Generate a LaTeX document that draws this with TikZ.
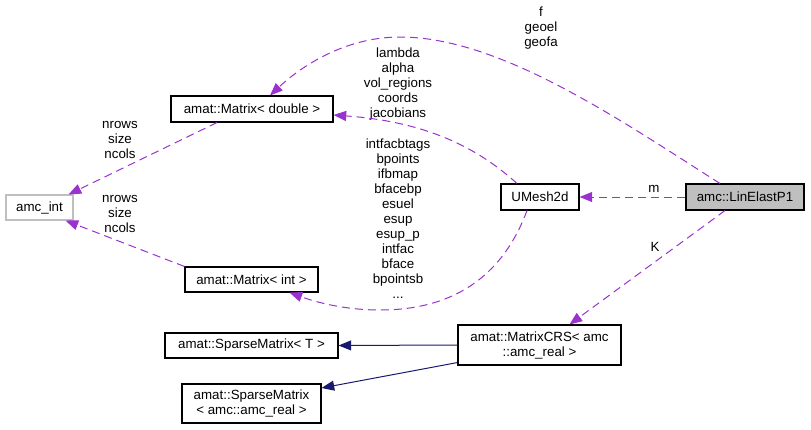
\documentclass[tikz,border=0pt]{standalone}
\usepackage{fontspec}
\setmainfont{Liberation Sans}
\usetikzlibrary{arrows.meta,calc}
\definecolor{depc}{HTML}{9A32CD}
\definecolor{inhc}{HTML}{191970}
\definecolor{grayb}{HTML}{BFBFBF}
\begin{document}
\begin{tikzpicture}[x=0.75pt,y=-0.75pt,
  font=\fontsize{10}{11.25}\selectfont,
  box/.style 2 args={draw=black, line width=0.8pt, inner sep=0pt, minimum width=#1*0.75pt, minimum height=#2*0.75pt, align=center},
  lbl/.style={align=center, inner sep=0pt},
  depl/.style={draw=depc, line width=0.75pt, dash pattern=on 6pt off 3.75pt, -{Triangle[length=9.5pt,width=7.5pt]}},
  inhl/.style={draw=inhc, line width=0.75pt, -{Triangle[length=9.5pt,width=7.5pt]}}]
\useasboundingbox (0,0) rectangle (811,429);

% nodes
\node[box={162}{26}] (md) at (252,109) {amat::Matrix< double >};
\node[box={67}{25}, draw=grayb] (ai) at (39.5,207.5) {amc\_int};
\node[box={78}{26}] (um) at (540,197) {UMesh2d};
\node[box={118}{26}, fill=grayb] (lin) at (745,197) {amc::LinElastP1};
\node[box={133}{25}] (mi) at (251.5,279.5) {amat::Matrix< int >};
\node[box={173}{25}] (st) at (251.5,345.5) {amat::SparseMatrix< T >};
\node[box={163}{40}] (crs) at (539.5,345) {amat::MatrixCRS< amc\\::amc\_real >};
\node[box={139}{39}] (sr) at (251.5,403.5) {amat::SparseMatrix\\< amc::amc\_real >};

% labels
\node[lbl] (l1) at (541,28) {f\\geoel\\geofa};
\node[lbl] (l2) at (398,84) {lambda\\alpha\\vol\_regions\\coords\\jacobians};
\node[lbl] (l3) at (398,219) {intfacbtags\\bpoints\\ifbmap\\bfacebp\\esuel\\esup\\esup\_p\\intfac\\bface\\bpointsb\\...};
\node[lbl] (l4) at (120,140) {nrows\\size\\ncols};
\node[lbl] (l5) at (120,214) {nrows\\size\\ncols};
\node[lbl] (l6) at (654,189) {m};
\node[lbl] (l7) at (655,247) {K};

% dependency edges
\draw[depl] ($(lin.north)+(-25,0)$) .. controls (620,120) and (500,37) .. (400,37)
   .. controls (340,37) and (295,72) .. ($(md.north)+(18,0)$);
\draw[depl] ($(um.north)+(-23,0)$) .. controls (480,150) and (430,122) .. ($(md.east)+(0,6)$);
\draw[depl] (lin.west) -- (um.east);
\draw[depl] ($(um.south)+(-13,0)$) .. controls (505,270) and (460,310) .. (380,310)
   .. controls (340,310) and (310,300) .. ($(mi.south)+(38,0)$);
\draw[depl] ($(md.south)+(-35,0)$) -- ($(ai.north east)+(-5,0)$);
\draw[depl] (mi.north west) -- ($(ai.south east)+(-8,0)$);
\draw[depl] ($(lin.south)+(-20,0)$) -- ($(crs.north)+(30,0)$);

% inheritance edges
\draw[inhl] (crs.west) -- (st.east);
\draw[inhl] ($(crs.south west)+(0,-3)$) -- ($(sr.east)+(0,-15.5)$);
\end{tikzpicture}
\end{document}
